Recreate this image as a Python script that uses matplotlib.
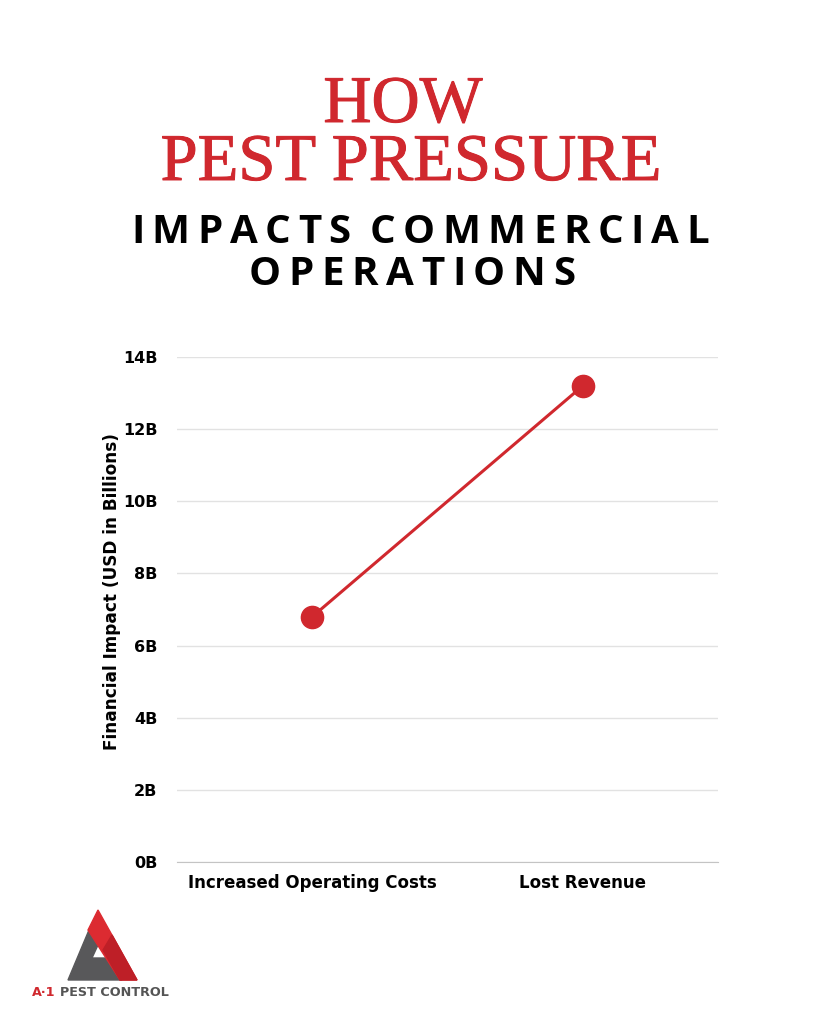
import matplotlib
matplotlib.use("Agg")
import matplotlib.pyplot as plt
import matplotlib.patheffects as pe
from matplotlib.patches import Polygon

# data
categories = ["Increased Operating Costs", "Lost Revenue"]
impact = [6.8, 13.2]
yticks = [0, 2, 4, 6, 8, 10, 12, 14]
ytick_labels = ["0B", "2B", "4B", "6B", "8B", "10B", "12B", "14B"]

RED = "#D0282E"
W, H = 819, 1024

plt.rcParams["font.family"] = ["DejaVu Sans"]

fig = plt.figure(figsize=(W / 100, H / 100), dpi=100)
fig.patch.set_facecolor("white")


def px(x, y):
    # pixel coords (top-left origin) -> figure fraction
    return x / W, 1 - y / H


def spaced_text(s, x0, x1, base, size, **kw):
    # spread the letters of s between x0 and x1 (pixels), baseline at base
    r = fig.canvas.get_renderer()
    widths = []
    for ch in s:
        if ch == " ":
            widths.append(size * 0.15)
            continue
        t = fig.text(0, 0, ch, fontsize=size, **kw)
        widths.append(t.get_window_extent(r).width)
        t.remove()
    gap = (x1 - x0 - sum(widths)) / (len(s) - 1)
    x = x0
    for ch, w in zip(s, widths):
        if ch != " ":
            fig.text(*px(x, base), ch, fontsize=size, va="baseline", ha="left", **kw)
        x += w + gap


# titles
thick = [pe.withStroke(linewidth=0.7, foreground=RED)]
fig.text(*px(403, 122), "HOW", fontsize=48, color=RED, family="Liberation Serif",
         ha="center", va="baseline", path_effects=thick)
fig.text(*px(411, 180), "PEST PRESSURE", fontsize=48, color=RED, family="Liberation Serif",
         ha="center", va="baseline", path_effects=thick)
spaced_text("IMPACTS COMMERCIAL", 131, 709, 243, 29, color="black", weight="bold",
            family="Open Sans")
spaced_text("OPERATIONS", 249, 575, 285, 29, color="black", weight="bold",
            family="Open Sans")

# chart
ax = fig.add_axes([177 / W, 1 - 862 / H, (718 - 177) / W, (862 - 357) / H])
ax.plot(range(len(categories)), impact, color=RED, lw=2.2, marker="o", ms=16,
        markerfacecolor=RED, markeredgecolor=RED, zorder=3)
ax.set_xlim(-0.5, 1.5)
ax.set_ylim(0, 14)
ax.set_yticks(yticks)
ax.set_yticklabels(ytick_labels)
ax.set_xticks(range(len(categories)))
ax.set_xticklabels(categories)
ax.grid(axis="y", color="#E2E2E2", lw=1)
ax.set_axisbelow(True)
for side in ["top", "right", "left"]:
    ax.spines[side].set_visible(False)
ax.spines["bottom"].set_color("#C4C4C4")
ax.tick_params(length=0, labelsize=11.5)
ax.tick_params(axis="x", labelsize=12, pad=9)
ax.tick_params(axis="y", pad=14)
for lab in ax.get_yticklabels() + ax.get_xticklabels():
    lab.set_fontweight("bold")
fig.text(*px(112, 591), "Financial Impact (USD in Billions)", rotation=90,
         fontsize=12.2, weight="bold", ha="center", va="center")

# logo
gray = Polygon([px(89, 930), px(98, 945), px(92, 958), px(110, 958), px(122, 980),
                px(68, 980)], closed=True, color="#58585A", transform=fig.transFigure)
red1 = Polygon([px(98, 910), px(137, 980), px(120, 980), px(88, 930)], closed=True,
               color="#DC2B31", transform=fig.transFigure)
red2 = Polygon([px(112, 935), px(137, 980), px(120, 980), px(103, 950)], closed=True,
               color="#BE1F27", transform=fig.transFigure)
fig.patches.extend([gray, red1, red2])
fig.text(*px(32, 993), "A·1", fontsize=9.2, weight="bold", color=RED, va="center")
fig.text(*px(60, 993), "PEST CONTROL", fontsize=9.2, weight="bold", color="#555555",
         va="center")

fig.savefig("out.png", dpi=100, facecolor="white")
